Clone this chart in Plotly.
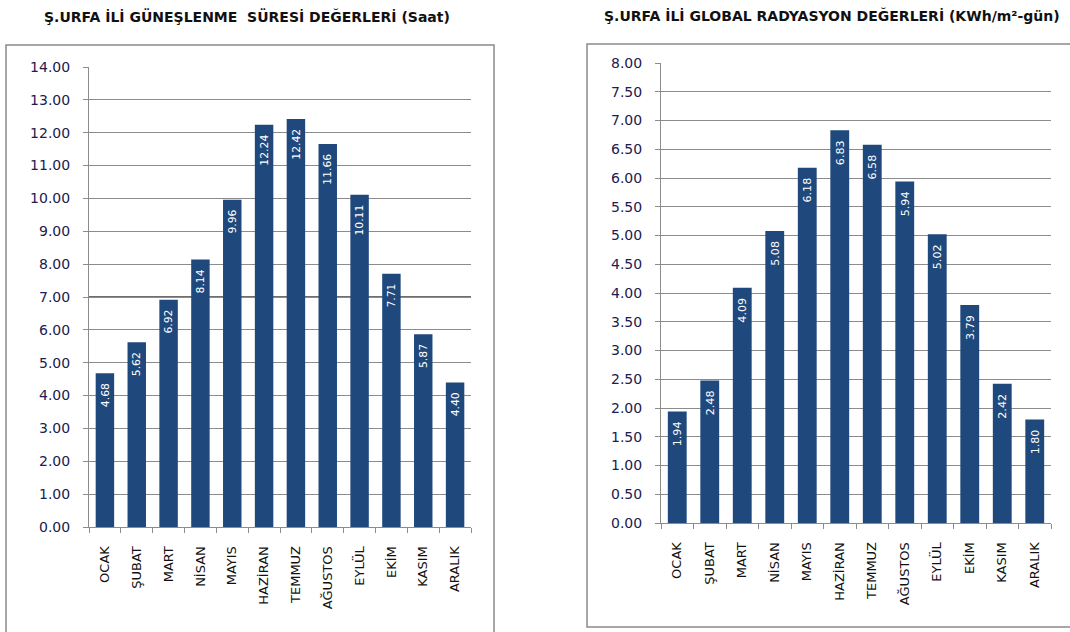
import plotly.graph_objects as go

W, H = 1070, 632

months = ["OCAK", "ŞUBAT", "MART", "NİSAN", "MAYIS", "HAZİRAN",
          "TEMMUZ", "AĞUSTOS", "EYLÜL", "EKİM", "KASIM", "ARALIK"]
sunshine_hours = [4.68, 5.62, 6.92, 8.14, 9.96, 12.24, 12.42, 11.66, 10.11, 7.71, 5.87, 4.40]
global_radiation = [1.94, 2.48, 4.09, 5.08, 6.18, 6.83, 6.58, 5.94, 5.02, 3.79, 2.42, 1.80]

title_left = "Ş.URFA İLİ GÜNEŞLENME  SÜRESİ DEĞERLERİ (Saat)"
title_right = "Ş.URFA İLİ GLOBAL RADYASYON DEĞERLERİ (KWh/m²-gün)"

BAR = "#1F497D"
GRID = "#8c8c8c"
FRAME = "#8a8a8a"
TICKTXT = "#1a2050"
FONT = "DejaVu Sans"
NBSP = "\u00a0"


def px(x):
    return x / W


def py(y):
    return (H - y) / H


fig = go.Figure()

for vals, ax in ((sunshine_hours, ""), (global_radiation, "2")):
    fig.add_trace(go.Bar(
        x=months, y=vals,
        xaxis="x" + ax, yaxis="y" + ax,
        marker=dict(color=BAR, line=dict(width=0)),
        # value label sits a little below the top of each bar
        text=[f"{v:.2f}" + NBSP * 2 for v in vals],
        textposition="inside",
        insidetextanchor="end",
        textangle=-90,
        textfont=dict(family=FONT, size=13, color="white"),
        hoverinfo="skip",
        showlegend=False,
    ))


def xaxis_style(domain, anchor):
    return dict(
        domain=domain, type="category", tickangle=-90, anchor=anchor,
        ticks="outside", tickson="boundaries", ticklen=5, tickcolor=GRID,
        ticklabelstandoff=13, automargin=False,
        showline=True, linecolor=GRID, linewidth=1, showgrid=False,
        tickfont=dict(family=FONT, size=13, color="#111111"), fixedrange=True,
    )


def yaxis_style(domain, rng, step, anchor):
    return dict(
        domain=domain, range=rng, dtick=step, tickformat=".2f",
        showgrid=True, gridcolor=GRID, gridwidth=1,
        ticks="outside", ticklen=5, tickcolor=GRID, ticklabelstandoff=10,
        showline=True, linecolor=GRID, linewidth=1, zeroline=False,
        automargin=False,
        tickfont=dict(family=FONT, size=14, color=TICKTXT),
        anchor=anchor, fixedrange=True,
    )


# open-sided chart frames, kept inside the page
frame_left = f"M {px(6)},0 L {px(6)},{py(45)} L {px(494)},{py(45)} L {px(494)},0"
frame_right = f"M 1,{py(44)} L {px(587)},{py(44)} L {px(587)},{py(627)} L 1,{py(627)}"

fig.update_layout(
    template="none",
    width=W, height=H, autosize=False,
    margin=dict(l=0, r=0, t=0, b=0, pad=0, autoexpand=False),
    paper_bgcolor="white", plot_bgcolor="white",
    bargap=0.42,
    xaxis=xaxis_style([px(89), px(471)], "y"),
    yaxis=yaxis_style([py(527), py(67)], [0, 14], 1, "x"),
    xaxis2=xaxis_style([px(661), px(1051)], "y2"),
    yaxis2=yaxis_style([py(523), py(63)], [0, 8], 0.5, "x2"),
    shapes=[
        dict(type="path", xref="paper", yref="paper", path=frame_left,
             line=dict(color=FRAME, width=1.5)),
        dict(type="path", xref="paper", yref="paper", path=frame_right,
             line=dict(color=FRAME, width=1.5)),
        # emphasised 7.00 gridline on the sunshine chart
        dict(type="line", xref="x domain", yref="y",
             x0=0, x1=1, y0=7, y1=7,
             line=dict(color="#6e6e6e", width=2), layer="below"),
    ],
    annotations=[
        dict(text="<b>" + title_left + "</b>", xref="paper", yref="paper",
             x=px(247), y=py(16), xanchor="center", yanchor="middle",
             showarrow=False,
             font=dict(family=FONT, size=14, color="#111111")),
        dict(text="<b>" + title_right + "</b>", xref="paper", yref="paper",
             x=px(832), y=py(15), xanchor="center", yanchor="middle",
             showarrow=False,
             font=dict(family=FONT, size=14, color="#111111")),
    ],
)

fig.write_html("out.html", config={"displayModeBar": False, "responsive": False})
